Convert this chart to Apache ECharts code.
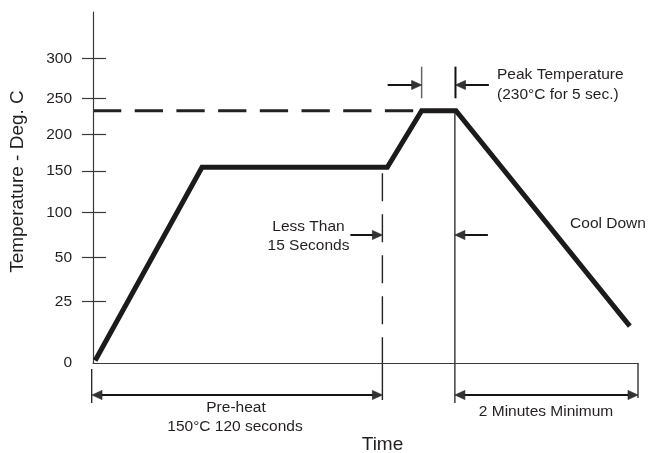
<!DOCTYPE html>
<html><head><meta charset="utf-8">
<script src="https://cdn.jsdelivr.net/npm/echarts@6/dist/echarts.min.js"></script>
<style>html,body{margin:0;padding:0;background:#fff}#c{width:649px;height:453px}</style>
</head><body><div id="c"></div>
<script>
// ---- Data (schematic reflow profile) ----
const tempTickLabels = [0, 25, 50, 100, 150, 200, 250, 300];
const profileTime = [0.4, 20, 54, 60.3, 66.6, 98.5];   // relative time units
const profileTemp = [1, 155, 155, 233, 233, 15];       // deg C as drawn
const peakTemp = 233;
const lessThanLineTime = 53.1;
const peakEndLineTime = 66.4;
const timeMax = 100;

// ---- Schematic (non-linear) vertical scale: axis level of each tick label ----
const tickLevels = [0, 61.4, 105.7, 150.4, 192, 228.3, 264.7, 304.7];
const levelMax = 351;
function tempToLevel(t) {
  for (let i = 1; i < tempTickLabels.length; i++) {
    if (t <= tempTickLabels[i]) {
      const a = tempTickLabels[i - 1], b = tempTickLabels[i];
      return tickLevels[i - 1] + (t - a) / (b - a) * (tickLevels[i] - tickLevels[i - 1]);
    }
  }
  return tickLevels[tickLevels.length - 1];
}
function levelLabel(v) {
  for (let i = 0; i < tickLevels.length; i++) if (Math.abs(tickLevels[i] - v) < 0.01) return String(tempTickLabels[i]);
  return '';
}

const FONT = "'Liberation Sans', Arial, Helvetica, sans-serif";
const INK = '#231f20';
const AX = '#3a3a3a';

const chart = echarts.init(document.getElementById('c'), null, { renderer: 'canvas' });
chart.setOption({
  animation: false,
  backgroundColor: '#fff',
  grid: { left: 93, right: 11, top: 12, bottom: 90, containLabel: false, outerBoundsMode: 'none' },
  xAxis: {
    type: 'value', min: 0, max: timeMax,
    axisLine: { show: true, lineStyle: { color: AX, width: 1.2 } },
    axisTick: { show: false }, axisLabel: { show: false }, splitLine: { show: false },
    name: 'Time', nameLocation: 'middle', nameGap: 72,
    nameTextStyle: { fontFamily: FONT, fontSize: 19, color: INK, padding: [0, 0, 0, 34] }
  },
  yAxis: [
    {
      type: 'value', min: 0, max: levelMax, position: 'left',
      axisLine: { show: true, onZero: false, lineStyle: { color: AX, width: 1.2 } },
      axisTick: { show: true, customValues: tickLevels.slice(1), length: 11, lineStyle: { color: AX, width: 1.2 } },
      axisLabel: { show: true, customValues: tickLevels, formatter: levelLabel, margin: 21,
        fontFamily: FONT, fontSize: 15.5, color: INK },
      splitLine: { show: false },
      name: 'Temperature - Deg. C', nameLocation: 'middle', nameGap: 66, nameRotate: 90,
      nameTextStyle: { fontFamily: FONT, fontSize: 19, color: INK, padding: [0, 0, 0, 12] }
    },
    {
      type: 'value', min: 0, max: levelMax, position: 'left',
      axisLine: { show: false },
      axisTick: { show: true, inside: true, customValues: tickLevels.slice(1), length: 13, lineStyle: { color: AX, width: 1.2 } },
      axisLabel: { show: false }, splitLine: { show: false }
    }
  ],
  series: [{
    type: 'line', xAxisIndex: 0, yAxisIndex: 0, clip: false,
    symbol: 'none',
    lineStyle: { color: '#1c1a1a', width: 5, join: 'miter', cap: 'butt' },
    data: profileTime.map((t, i) => [t, tempToLevel(profileTemp[i])])
  }]
});

// ---- Annotations positioned through the chart's own scales ----
const P = (t, lvl) => chart.convertToPixel({ xAxisIndex: 0, yAxisIndex: 0 }, [t, lvl]);
const x0 = P(0, 0)[0], y0 = P(0, 0)[1];
const xEnd = P(timeMax, 0)[0];
const yPeak = P(0, tempToLevel(peakTemp))[1];
const yPlat = P(0, tempToLevel(profileTemp[1]))[1];
const xPeakStart = P(profileTime[3], 0)[0];
const xLess = P(lessThanLineTime, 0)[0];
const xPeakEnd = P(peakEndLineTime, 0)[0];

const g = [];
function line(x1, y1, x2, y2, w, color, dash) {
  g.push({ type: 'line', silent: true, shape: { x1, y1, x2, y2 },
    style: { stroke: color || '#1a1a1a', lineWidth: w, lineDash: dash || null } });
}
function head(tipX, y, dir) {
  const L = 10, H = 4.6;
  g.push({ type: 'polygon', silent: true,
    shape: { points: [[tipX, y], [tipX - dir * L, y - H], [tipX - dir * L, y + H]] },
    style: { fill: '#333', stroke: '#222', lineWidth: 0.6 } });
}
function arrow(tailX, tipX, y) {
  const dir = tipX > tailX ? 1 : -1;
  line(tailX, y, tipX - dir * 8, y, 2, '#141414');
  head(tipX, y, dir);
}
function dbl(xa, xb, y) {
  line(xa + 8, y, xb - 8, y, 2, '#141414');
  head(xa, y, -1); head(xb, y, 1);
}
function text(str, x, y, align, size) {
  g.push({ type: 'text', silent: true,
    style: { text: str, x, y, align: align || 'center', verticalAlign: 'middle',
      fontFamily: FONT, fontSize: size || 15.5, fill: INK } });
}

// peak temperature dashed reference
line(x0, yPeak, xPeakStart, yPeak, 3, '#222', [28.3, 13.4]);
// "less than" dashed vertical (plateau end)
line(xLess, yPlat + 6, xLess, y0, 1.4, '#222', [28, 13]);
line(xLess, y0, xLess, y0 + 37, 1.4, '#222');
// peak-end vertical
line(xPeakEnd, yPeak, xPeakEnd, y0 + 40, 1.3, '#222');
// peak-width markers at top
line(xPeakStart, yPeak - 44, xPeakStart, yPeak - 12.4, 1.5, '#666');
line(xPeakEnd + 0.6, yPeak - 44, xPeakEnd + 0.6, yPeak - 12.4, 2, '#111');
arrow(xPeakStart - 34, xPeakStart, yPeak - 25.7);
arrow(xPeakEnd + 34, xPeakEnd + 0.6, yPeak - 25.7);
// "Less than 15 seconds" arrows
arrow(xLess - 32, xLess, 235);
arrow(xPeakEnd + 33, xPeakEnd, 235);
// bottom dimension arrows
line(x0 - 1.3, y0 + 6, x0 - 1.3, y0 + 40, 1.3, '#222');
line(xEnd, y0, xEnd, y0 + 35, 1.3, '#222');
dbl(x0 - 1, xLess, y0 + 32);
dbl(xPeakEnd, xEnd, y0 + 32);

// labels
text('Peak Temperature', 497, 75, 'left');
text('(230\u00B0C for 5 sec.)', 497, 95, 'left');
text('Less Than', 308.5, 227);
text('15 Seconds', 308.5, 246);
text('Cool Down', 608, 223.5);
text('Pre-heat', 236, 408);
text('150\u00B0C 120 seconds', 235, 427);
text('2 Minutes Minimum', 546, 411.5);

chart.setOption({ graphic: g });
</script>
</body></html>
